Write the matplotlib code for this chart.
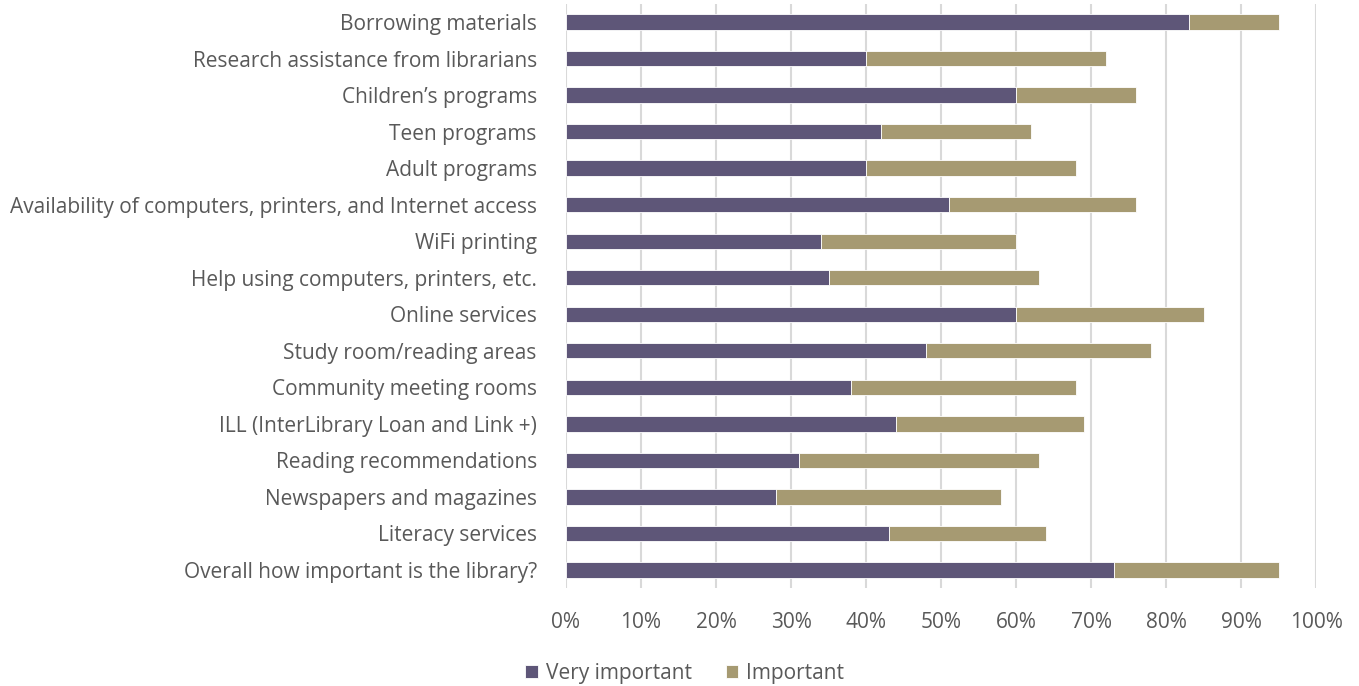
import matplotlib
matplotlib.use("Agg")
from matplotlib import pyplot as plt
from matplotlib.ticker import MultipleLocator, FuncFormatter

categories = [
    "Borrowing materials",
    "Research assistance from librarians",
    "Children\u2019s programs",
    "Teen programs",
    "Adult programs",
    "Availability of computers, printers, and Internet access",
    "WiFi printing",
    "Help using computers, printers, etc.",
    "Online services",
    "Study room/reading areas",
    "Community meeting rooms",
    "ILL (InterLibrary Loan and Link +)",
    "Reading recommendations",
    "Newspapers and magazines",
    "Literacy services",
    "Overall how important is the library?",
]
very_important = [83, 40, 60, 42, 40, 51, 34, 35, 60, 48, 38, 44, 31, 28, 43, 73]
important = [12, 32, 16, 20, 28, 25, 26, 28, 25, 30, 30, 25, 32, 30, 21, 22]

purple = "#5E5678"
tan = "#A69A72"
text_col = "#595959"

plt.rcParams['font.family'] = ['Open Sans', 'DejaVu Sans']

fig = plt.figure(figsize=(13.59, 6.86), dpi=100)
ax = fig.add_axes([566 / 1359, 1 - 588.3 / 686, 750 / 1359, (588.3 - 3.7) / 686])

pos = list(range(len(categories)))
h = 0.42
ax.barh(pos, very_important, height=h, color=purple, edgecolor="white", linewidth=0.6,
        label="Very important", zorder=3)
ax.barh(pos, important, left=very_important, height=h, color=tan, edgecolor="white",
        linewidth=0.6, label="Important", zorder=3)

ax.set_xlim(0, 100)
ax.set_ylim(len(categories) - 0.5, -0.5)
ax.set_yticks(pos)
ax.set_yticklabels(categories, fontsize=15, color=text_col)
ax.xaxis.set_major_locator(MultipleLocator(10))
ax.xaxis.set_major_formatter(FuncFormatter(lambda v, p: "%d%%" % v))
ax.tick_params(axis="x", labelsize=15, labelcolor=text_col, length=0, pad=17)
ax.tick_params(axis="y", length=0, pad=21)
ax.grid(axis="x", color="#D9D9D9", linewidth=1.5, zorder=0)
for s in ax.spines.values():
    s.set_visible(False)

ax.legend(loc="center", bbox_to_anchor=(685 / 1359, 1 - 673 / 686), bbox_transform=fig.transFigure,
          ncol=2, frameon=False, fontsize=15, labelcolor=text_col, handlelength=0.6,
          handleheight=0.6, columnspacing=1.6, handletextpad=0.4)

fig.savefig("out.png", dpi=100)
